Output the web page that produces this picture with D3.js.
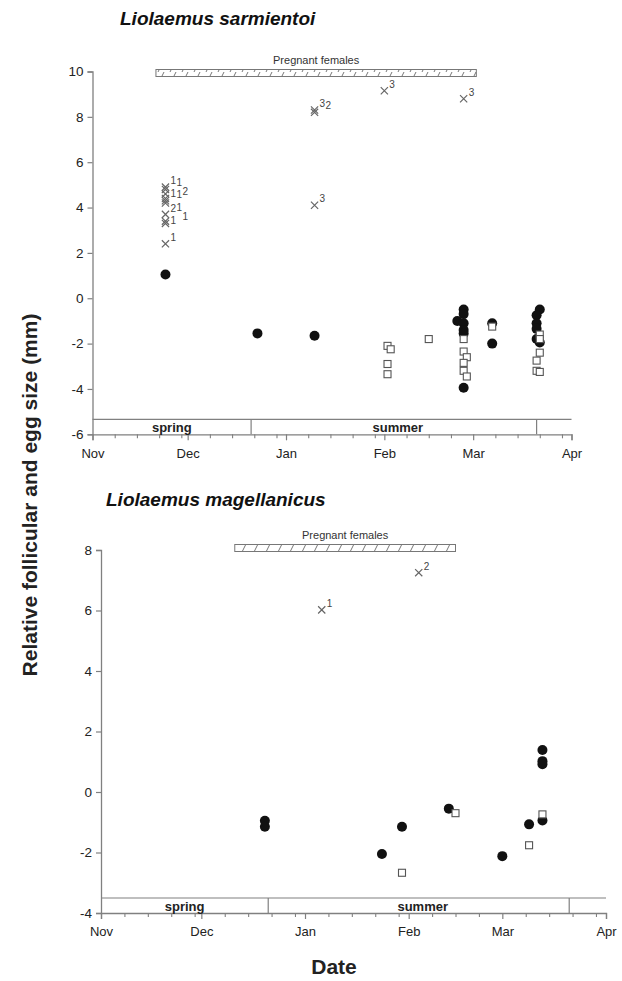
<!DOCTYPE html>
<html><head><meta charset="utf-8">
<script src="https://cdn.jsdelivr.net/npm/d3@7"></script>
<style>body{margin:0;background:#fff}svg{display:block}text{font-family:Arial,"Liberation Sans",sans-serif}</style>
</head><body><svg id="c" width="622" height="981"></svg>
<script>
// ---- Data: Liolaemus sarmientoi ----
const sarmCircles = [
  ["2000-11-24", 1.05], ["2000-12-23", -1.55], ["2001-01-10", -1.65],
  ["2001-02-26", -0.5], ["2001-02-26", -0.7], ["2001-02-24", -1.0], ["2001-02-26", -1.1],
  ["2001-02-26", -1.4], ["2001-02-26", -1.55], ["2001-02-26", -3.95],
  ["2001-03-07", -1.1], ["2001-03-07", -2.0],
  ["2001-03-22", -0.5], ["2001-03-21", -0.75], ["2001-03-21", -1.1], ["2001-03-21", -1.35],
  ["2001-03-21", -1.8], ["2001-03-22", -1.95]
];
const sarmSquares = [
  ["2001-02-02", -2.1], ["2001-02-03", -2.25], ["2001-02-02", -2.9], ["2001-02-02", -3.35],
  ["2001-02-15", -1.8],
  ["2001-02-26", -1.8], ["2001-02-26", -2.35], ["2001-02-27", -2.6], ["2001-02-26", -2.85],
  ["2001-02-26", -3.2], ["2001-02-27", -3.45],
  ["2001-03-07", -1.25],
  ["2001-03-22", -1.6], ["2001-03-22", -1.8], ["2001-03-22", -2.4], ["2001-03-21", -2.75],
  ["2001-03-21", -3.2], ["2001-03-22", -3.25]
];
const sarmEggs = [
  ["2000-11-24", 4.9, "1"], ["2000-11-24", 4.8, "1"], ["2000-11-24", 4.6, "1"],
  ["2000-11-24", 4.4, "2"], ["2000-11-24", 4.3, "1"], ["2000-11-24", 4.2, "2"],
  ["2000-11-24", 3.7, "1"], ["2000-11-24", 3.4, "1"], ["2000-11-24", 3.3, "1"],
  ["2000-11-24", 2.4, "1"],
  ["2001-01-10", 8.3, "3"], ["2001-01-10", 8.2, "2"], ["2001-01-10", 4.1, "3"],
  ["2001-02-01", 9.15, "3"], ["2001-02-26", 8.8, "3"]
];
const sarmPregnant = ["2000-11-21", "2001-03-02"];

// ---- Data: Liolaemus magellanicus ----
const magCircles = [
  ["2000-12-20", -0.95], ["2000-12-20", -1.15],
  ["2001-01-24", -2.05], ["2001-01-30", -1.15], ["2001-02-13", -0.55],
  ["2001-03-01", -2.12], ["2001-03-09", -1.07],
  ["2001-03-13", 1.39], ["2001-03-13", 1.02], ["2001-03-13", 0.92], ["2001-03-13", -0.94]
];
const magSquares = [
  ["2001-01-30", -2.67], ["2001-02-15", -0.7], ["2001-03-09", -1.76], ["2001-03-13", -0.74]
];
const magEggs = [
  ["2001-01-06", 6.02, "1"], ["2001-02-04", 7.25, "2"]
];
const magPregnant = ["2000-12-11", "2001-02-15"];

// ---- Shared ----
const seasons = [["spring", "2000-11-01", "2000-12-21"], ["summer", "2000-12-21", "2001-03-21"]];
const monthTicks = ["2000-11-01", "2000-12-01", "2001-01-01", "2001-02-01", "2001-03-01", "2001-04-01"];
const monthLabels = ["Nov", "Dec", "Jan", "Feb", "Mar", "Apr"];
const dateDomain = ["2000-11-01", "2001-04-01"];

const parse = d3.utcParse("%Y-%m-%d");
const svg = d3.select("#c");
const axisCol = "#808080", textCol = "#222";

const defs = svg.append("defs");
const pat = defs.append("pattern").attr("id", "hatch").attr("patternUnits", "userSpaceOnUse")
  .attr("width", 12).attr("height", 12);
pat.append("path").attr("d", "M2,12 L8,0").attr("stroke", "#777").attr("stroke-width", 1);

// label candidate offsets (superscript placement with collision avoidance)
const cands = [];
[-3, 3, -9, 9, -15, 15, -21, 21].forEach(dy => [5, 11, 17, 23].forEach(dx =>
  cands.push([dx, dy, Math.abs(dx - 5) * 0.8 + Math.abs(dy + 3)])));
cands.sort((a, b) => a[2] - b[2]);

function panel(cfg) {
  const x = d3.scaleUtc().domain(dateDomain.map(parse)).range([cfg.x0, cfg.x1]);
  const y = d3.scaleLinear().domain(cfg.yDomain).range([cfg.yBottom, cfg.yTop]);
  const g = svg.append("g");

  // title
  g.append("text").attr("x", cfg.titleX).attr("y", cfg.titleY)
    .attr("font-size", 19).attr("font-weight", "bold").attr("font-style", "italic")
    .attr("fill", "#111").text(cfg.title);

  // y axis
  const ya = d3.axisLeft(y).tickValues(d3.range(cfg.yDomain[0], cfg.yDomain[1] + 0.1, 2))
    .tickSize(5).tickPadding(4).tickFormat(d3.format("d"));
  const yg = g.append("g").attr("transform", `translate(${cfg.x0},0)`).call(ya);
  yg.select(".domain").attr("stroke", axisCol).attr("stroke-width", 1.3);
  yg.selectAll(".tick line").attr("stroke", axisCol).attr("stroke-width", 1.2);
  yg.selectAll("text").attr("font-size", 13.5).attr("fill", textCol)
    .text(d => d < 0 ? "-" + Math.abs(d) : d);

  // x axis minor ticks (weekly)
  const minor = d3.utcDay.range(parse(dateDomain[0]), d3.utcDay.offset(parse(dateDomain[1]), 1))
    .filter(d => (d.getUTCDate() - 1) % 7 === 0 && d.getUTCDate() !== 1);
  const xmin = d3.axisBottom(x).tickValues(minor).tickSize(4).tickFormat("");
  const xg2 = g.append("g").attr("transform", `translate(0,${cfg.yBottom})`).call(xmin);
  xg2.select(".domain").remove();
  xg2.selectAll(".tick line").attr("stroke", axisCol).attr("stroke-width", 1.1);

  const xa = d3.axisBottom(x).tickValues(monthTicks.map(parse)).tickSize(6).tickPadding(8)
    .tickFormat((d, i) => monthLabels[i]);
  const xg = g.append("g").attr("transform", `translate(0,${cfg.yBottom})`).call(xa);
  xg.select(".domain").attr("stroke", axisCol).attr("stroke-width", 1.3);
  xg.selectAll(".tick line").attr("stroke", axisCol).attr("stroke-width", 1.2);
  xg.selectAll("text").attr("font-size", 13).attr("fill", textCol);

  // season band
  const bandTop = cfg.yBottom - 15;
  g.append("line").attr("x1", cfg.x0).attr("x2", cfg.x1).attr("y1", bandTop).attr("y2", bandTop)
    .attr("stroke", axisCol).attr("stroke-width", 1.2);
  const divs = [seasons[1][1], seasons[1][2]];
  g.selectAll(".div").data(divs).join("line")
    .attr("x1", d => x(parse(d))).attr("x2", d => x(parse(d)))
    .attr("y1", bandTop).attr("y2", cfg.yBottom).attr("stroke", axisCol).attr("stroke-width", 1.2);
  g.selectAll(".season").data(seasons).join("text")
    .attr("x", d => (x(parse(d[1])) + x(parse(d[2]))) / 2 + (d[0] === "summer" ? 4 : 0))
    .attr("y", cfg.yBottom - 2.5).attr("text-anchor", "middle")
    .attr("font-size", 13).attr("font-weight", "bold").attr("fill", "#222").text(d => d[0]);

  // pregnant females bar
  const px0 = x(parse(cfg.pregnant[0])), px1 = x(parse(cfg.pregnant[1]));
  g.append("rect").attr("x", px0).attr("y", cfg.pregY).attr("width", px1 - px0).attr("height", 7)
    .attr("fill", "url(#hatch)").attr("stroke", "#777").attr("stroke-width", 1);
  g.append("text").attr("x", (px0 + px1) / 2).attr("y", cfg.pregY - 6).attr("text-anchor", "middle")
    .attr("font-size", 11).attr("fill", "#333").text("Pregnant females");

  // eggs (x markers with labels)
  const xs = 3.6;
  const eggs = g.append("g");
  cfg.eggs.forEach(d => {
    const cx = x(parse(d[0])), cy = y(d[1]);
    eggs.append("path").attr("d", `M${cx - xs},${cy - xs}L${cx + xs},${cy + xs}M${cx - xs},${cy + xs}L${cx + xs},${cy - xs}`)
      .attr("stroke", "#666").attr("stroke-width", 1.2).attr("fill", "none");
  });
  const fs = 10, bw = 6, bh = 11;
  const placed = [];
  cfg.eggs.forEach(d => {
    const cx = x(parse(d[0])), cy = y(d[1]);
    let pos = null;
    for (const c of cands) {
      const lx = cx + c[0], ly = cy + c[1];
      const box = [lx, ly - bh + 2, lx + bw * d[2].length, ly + 2];
      if (!placed.some(b => box[0] < b[2] && box[2] > b[0] && box[1] < b[3] && box[3] > b[1])) {
        pos = [lx, ly]; placed.push(box); break;
      }
    }
    if (!pos) pos = [cx + 5, cy - 3];
    eggs.append("text").attr("x", pos[0]).attr("y", pos[1]).attr("font-size", fs).attr("fill", "#444").text(d[2]);
  });

  // circles
  g.append("g").selectAll("circle").data(cfg.circles).join("circle")
    .attr("cx", d => x(parse(d[0]))).attr("cy", d => y(d[1])).attr("r", 5).attr("fill", "#111");
  // squares
  const s = 7;
  g.append("g").selectAll("rect").data(cfg.squares).join("rect")
    .attr("x", d => x(parse(d[0])) - s / 2).attr("y", d => y(d[1]) - s / 2)
    .attr("width", s).attr("height", s).attr("fill", "#fff").attr("stroke", "#555").attr("stroke-width", 1.1);
}

panel({ title: "Liolaemus sarmientoi", titleX: 120, titleY: 25, x0: 92.5, x1: 571.5,
  yDomain: [-6, 10], yTop: 71.5, yBottom: 434.3, pregnant: sarmPregnant, pregY: 69.5,
  eggs: sarmEggs, circles: sarmCircles, squares: sarmSquares });

panel({ title: "Liolaemus magellanicus", titleX: 106, titleY: 506, x0: 101, x1: 606,
  yDomain: [-4, 8], yTop: 550, yBottom: 913, pregnant: magPregnant, pregY: 544.5,
  eggs: magEggs, circles: magCircles, squares: magSquares });

// shared axis titles
svg.append("text").attr("transform", "translate(37,495) rotate(-90)").attr("text-anchor", "middle")
  .attr("font-size", 21).attr("font-weight", "bold").attr("fill", "#222")
  .text("Relative follicular and egg size (mm)");
svg.append("text").attr("x", 334).attr("y", 974).attr("text-anchor", "middle")
  .attr("font-size", 21).attr("font-weight", "bold").attr("fill", "#222").text("Date");
</script></body></html>
